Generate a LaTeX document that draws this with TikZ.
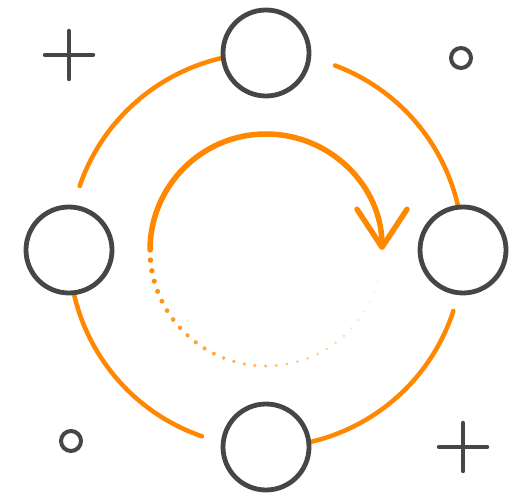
\documentclass[tikz,border=0pt]{standalone}
\usepackage{tikz}
\usetikzlibrary{arrows.meta, backgrounds}
\definecolor{cycleorange}{RGB}{255, 136, 0}
\definecolor{cyclegray}{RGB}{70, 70, 70}
\tikzset{
  station/.style = {circle, draw=cyclegray, line width=4.8pt, fill=white, minimum size=86pt, inner sep=0pt},
  ringarc/.style = {draw=cycleorange, line width=4.5pt, line cap=round},
  spin/.style = {draw=cycleorange, line width=5.5pt, line cap=round, -{Straight Barb[length=38pt, width=50pt, round]}},
  deco/.style = {draw=cyclegray, line width=4.5pt, line cap=round}
}

\begin{document}
\begin{tikzpicture}[x=1pt, y=1pt]
\useasboundingbox (0,0) rectangle (510,492);

% centre of the cycle and the four stations
\coordinate (hub) at (266,242);
\node (ringtop) [station] at (266,439) {};
\node (ringleft) [station] at (69,242) {};
\node (ringbottom) [station] at (266,45) {};
\node (ringright) [station] at (463,242) {};

% outer ring, one arc leaving each station (behind the stations)
\begin{scope}[on background layer]
\draw [ringarc] (ringtop.center) arc[start angle=90, end angle=161, radius=197];
\draw [ringarc] (ringleft.center) arc[start angle=180, end angle=251, radius=197];
\draw [ringarc] (ringbottom.center) arc[start angle=270, end angle=342, radius=197];
\draw [ringarc] (ringright.center) arc[start angle=0, end angle=69.5, radius=197];
\end{scope}

% inner turning arrow
\draw [spin] (hub) ++(180:116) arc[start angle=180, end angle=0, radius=116];

% fading dotted return
\foreach \i in {0,...,32} {
  \fill [cycleorange, opacity={1-0.026*\i}] (hub) ++({185+5.3*\i}:116) circle ({2.7-0.063*\i});
}

% corner marks
\draw [deco] (45,437) -- (93,437);
\draw [deco] (69,413) -- (69,461);
\draw [deco] (439,45) -- (487,45);
\draw [deco] (463,21) -- (463,69);
\draw [deco, line width=4pt] (461,434) circle (10);
\draw [deco, line width=4pt] (71,51) circle (10);

\end{tikzpicture}
\end{document}
